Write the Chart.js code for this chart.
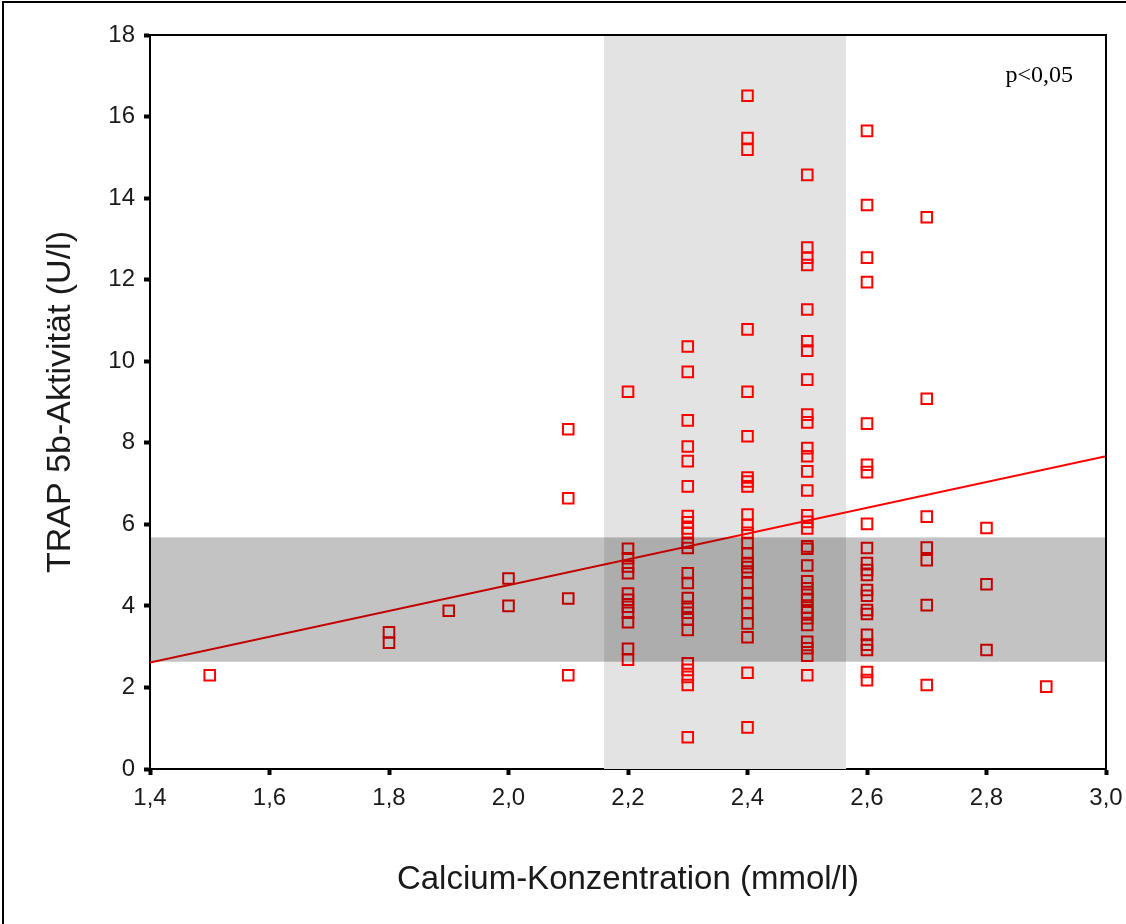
<!DOCTYPE html>
<html>
<head>
<meta charset="utf-8">
<script src="https://cdn.jsdelivr.net/npm/chart.js@4.4.1/dist/chart.umd.min.js"></script>
<style>
  html, body { margin: 0; padding: 0; background: #fff; }
  .wrap { position: relative; width: 1126px; height: 924px; }
</style>
</head>
<body>
<div class="wrap"><canvas class="js-scatter"></canvas></div>
<script>
// calcium levels (x) and the TRAP 5b values measured at each level
const calciumLevels = [1.5, 1.8, 1.9, 2.0, 2.1, 2.2, 2.3, 2.4, 2.5, 2.6, 2.7, 2.8, 2.9];
const trapByLevel = [
  [2.3],
  [3.35, 3.1],
  [3.88],
  [4.67, 4.0],
  [8.33, 6.64, 4.18, 2.3],
  [9.25, 5.4, 5.17, 4.97, 4.8, 4.3, 4.15, 3.98, 3.83, 3.6, 2.95, 2.68],
  [10.36, 9.74, 8.55, 7.91, 7.55, 6.93, 6.2, 6.05, 5.9, 5.78, 5.55, 5.42, 4.8, 4.56, 4.19, 3.98, 3.83, 3.67, 3.41, 2.59, 2.43, 2.26, 2.06, 0.78],
  [16.51, 15.47, 15.19, 10.78, 9.25, 8.16, 7.15, 7.05, 6.93, 6.24, 5.99, 5.79, 5.54, 5.29, 5.05, 4.95, 4.84, 4.56, 4.31, 4.07, 3.82, 3.57, 3.23, 2.36, 1.02],
  [14.57, 12.79, 12.54, 12.36, 11.27, 10.49, 10.26, 9.55, 8.69, 8.5, 7.87, 7.67, 7.3, 6.83, 6.22, 6.06, 5.9, 5.46, 5.4, 4.99, 4.6, 4.43, 4.27, 4.15, 3.96, 3.84, 3.7, 3.53, 3.12, 2.96, 2.78, 2.3],
  [15.65, 13.83, 12.54, 11.94, 8.47, 7.46, 7.28, 6.01, 5.42, 5.05, 4.88, 4.76, 4.39, 4.25, 3.9, 3.8, 3.29, 3.05, 2.92, 2.38, 2.18],
  [13.53, 9.08, 6.19, 5.43, 5.12, 4.02, 2.06],
  [5.91, 4.53, 2.92],
  [2.02]
];

// regression line end points
const regressionX = [1.4, 3.0];
const regressionY = [2.61, 7.67];

// reference ranges (shaded bands)
const calciumRange = [2.16, 2.565];
const trapRange = [2.63, 5.68];

// ticks
const xTickValues = [1.4, 1.6, 1.8, 2.0, 2.2, 2.4, 2.6, 2.8, 3.0];
const xTickLabels = ["1,4", "1,6", "1,8", "2,0", "2,2", "2,4", "2,6", "2,8", "3,0"];
const yTickValues = [0, 2, 4, 6, 8, 10, 12, 14, 16, 18];
const yTickLabels = ["0", "2", "4", "6", "8", "10", "12", "14", "16", "18"];

const points = [];
calciumLevels.forEach((ca, i) => {
  trapByLevel[i].forEach((v) => points.push({ x: ca, y: v }));
});

const bands = {
  id: "bands",
  beforeDatasetsDraw(chart) {
    const { ctx, chartArea: a, scales: { x } } = chart;
    ctx.save();
    ctx.fillStyle = "#e3e3e3";
    const x1 = x.getPixelForValue(calciumRange[0]);
    const x2 = x.getPixelForValue(calciumRange[1]);
    ctx.fillRect(x1, a.top, x2 - x1, a.bottom - a.top);
    ctx.restore();
  },
  afterDatasetsDraw(chart) {
    const { ctx, chartArea: a, scales: { y } } = chart;
    ctx.save();
    ctx.fillStyle = "rgba(0,0,0,0.235)";
    const y1 = y.getPixelForValue(trapRange[1]);
    const y2 = y.getPixelForValue(trapRange[0]);
    ctx.fillRect(a.left + 1, y1, a.right - a.left - 1, y2 - y1);
    ctx.restore();
  },
  afterDraw(chart) {
    const { ctx, chartArea: a } = chart;
    ctx.save();
    ctx.strokeStyle = "#000";
    ctx.lineWidth = 2;
    // plot frame top + right
    ctx.beginPath();
    ctx.moveTo(a.left, a.top);
    ctx.lineTo(a.right, a.top);
    ctx.lineTo(a.right, a.bottom);
    ctx.stroke();
    // outer picture border (top + left)
    ctx.beginPath();
    ctx.moveTo(3, 924);
    ctx.lineTo(3, 2);
    ctx.lineTo(1126, 2);
    ctx.stroke();
    // significance note
    ctx.fillStyle = "#000";
    ctx.font = '24px "Liberation Serif", serif';
    ctx.textAlign = "right";
    ctx.textBaseline = "middle";
    ctx.fillText("p<0,05", 1073, 76);
    ctx.restore();
  },
};

new Chart(document.querySelector(".js-scatter"), {
  type: "scatter",
  data: {
    datasets: [
      {
        label: "TRAP 5b",
        data: points,
        pointStyle: "rect",
        pointRadius: 7.5,
        pointBorderWidth: 2,
        borderColor: "#ff0000",
        backgroundColor: "rgba(0,0,0,0)",
        order: 2,
      },
      {
        type: "line",
        label: "Regression",
        data: regressionX.map((x, i) => ({ x: x, y: regressionY[i] })),
        borderColor: "#ff0000",
        borderWidth: 2,
        pointRadius: 0,
        fill: false,
        order: 1,
      },
    ],
  },
  options: {
    responsive: true,
    maintainAspectRatio: false,
    animation: false,
    events: [],
    layout: { padding: { top: 35, right: 20, left: 0, bottom: 0 } },
    plugins: {
      legend: { display: false },
      tooltip: { enabled: false },
    },
    scales: {
      x: {
        type: "linear",
        min: 1.4,
        max: 3.0,
        afterBuildTicks: (s) => { s.ticks = xTickValues.map((v) => ({ value: v })); },
        afterFit: (s) => { s.height = 155; s.paddingLeft = 0; s.paddingRight = 0; },
        border: { color: "#000", width: 2 },
        grid: { drawOnChartArea: false, tickLength: 6, tickWidth: 4, tickColor: "#000" },
        ticks: {
          color: "#1a1a1a",
          padding: 9,
          maxRotation: 0,
          font: { family: "'Liberation Sans', Arial, sans-serif", size: 24 },
          callback: (v, i) => xTickLabels[i],
        },
        title: {
          display: true,
          text: "Calcium-Konzentration (mmol/l)",
          color: "#1a1a1a",
          font: { family: "'Liberation Sans', Arial, sans-serif", size: 33 },
          padding: { top: 0, bottom: 24 },
        },
      },
      y: {
        type: "linear",
        min: 0,
        max: 18,
        afterBuildTicks: (s) => { s.ticks = yTickValues.map((v) => ({ value: v })); },
        afterFit: (s) => { s.width = 150; s.paddingTop = 0; s.paddingBottom = 0; },
        border: { color: "#000", width: 2 },
        grid: { drawOnChartArea: false, tickLength: 6, tickWidth: 4, tickColor: "#000" },
        ticks: {
          color: "#1a1a1a",
          padding: 9,
          font: { family: "'Liberation Sans', Arial, sans-serif", size: 24 },
          callback: (v, i) => yTickLabels[i],
        },
        title: {
          display: true,
          text: "TRAP 5b-Aktivität (U/l)",
          color: "#1a1a1a",
          font: { family: "'Liberation Sans', Arial, sans-serif", size: 34 },
          padding: { top: 40, bottom: 0 },
        },
      },
    },
  },
  plugins: [bands],
});
</script>
</body>
</html>
